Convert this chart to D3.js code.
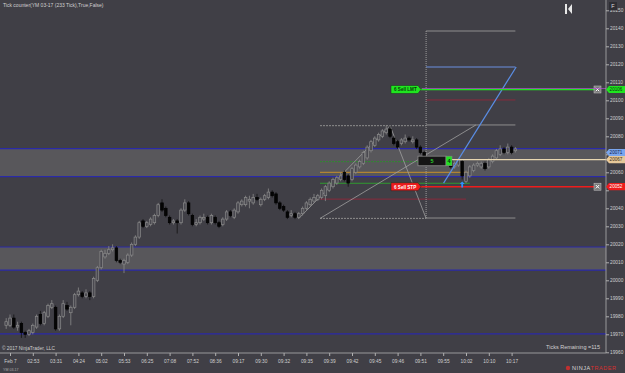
<!DOCTYPE html>
<html>
<head>
<meta charset="utf-8">
<script src="https://cdn.jsdelivr.net/npm/d3@7"></script>
<style>
  body { margin: 0; background: #403f46; overflow: hidden; }
  text { font-family: "Liberation Sans", Arial, sans-serif; }
</style>
</head>
<body>
<svg id="chart" width="625" height="373"></svg>
<script>
// 233 tick bars, YM 03-17
const opens = [19975,19975,19979,19974,19976,19971,19970,19971,19974,19981,19976,19980,19985,19985,19973,19980,19986,19982,19985,19992,
  19993,19991,19993,19991,20000,20007,20013,20015,20017,20018,20011,20009,20010,20014,20020,20024,20033,20030,20031,20032,
  20036,20043,20040,20035,20032,20033,20032,20039,20043,20036,20031,20032,20034,20035,20032,20035,20032,20031,20034,20038,
  20035,20038,20042,20042,20044,20043,20046,20042,20045,20046,20049,20048,20043,20041,20038,20036,20037,20035,20037,20040,
  20042,20044,20045,20046,20047,20050,20052,20054,20056,20060,20058,20056,20060,20063,20065,20068,20072,20075,20078,20080,
  20082,20084,20079,20077,20076,20077,20079,20077,20078,20074,20071,20068,20067,20066,20067,20066,20065,20067,20063,20064,
  20066,20055,20058,20061,20064,20063,20065,20063,20066,20068,20070,20073,20071,20074,20072];
const highs = [19979,19981,19981,19977,19977,19972,19973,19976,19981,19983,19983,19987,19989,19986,19981,19989,19988,19986,19993,19996,
  19994,19995,19994,20002,20008,20017,20017,20019,20020,20019,20012,20012,20015,20021,20025,20033,20034,20033,20035,20037,
  20043,20045,20041,20036,20034,20034,20040,20045,20044,20037,20034,20036,20037,20036,20037,20036,20033,20035,20039,20039,
  20040,20044,20045,20047,20047,20048,20048,20046,20048,20051,20050,20049,20044,20042,20039,20039,20038,20038,20041,20044,
  20046,20048,20048,20051,20053,20055,20057,20058,20060,20061,20059,20063,20065,20067,20072,20075,20078,20080,20082,20084,
  20086,20086,20080,20078,20079,20081,20080,20080,20079,20075,20072,20069,20068,20068,20068,20068,20068,20068,20066,20068,
  20067,20061,20064,20065,20066,20066,20066,20068,20070,20073,20075,20074,20076,20075,20074];
const lows = [19973,19974,19973,19972,19968,19968,19969,19970,19973,19975,19975,19979,19984,19972,19972,19979,19983,19975,19984,19991,
  19990,19990,19989,19990,19999,20006,20012,20014,20016,20010,20009,20004,20009,20013,20019,20023,20029,20029,20030,20031,
  20035,20038,20035,20031,20031,20026,20031,20038,20036,20030,20030,20031,20033,20031,20031,20031,20029,20030,20033,20035,
  20034,20037,20041,20041,20040,20042,20044,20041,20044,20045,20046,20042,20039,20038,20034,20035,20034,20034,20036,20039,
  20041,20043,20044,20045,20044,20049,20051,20053,20055,20055,20052,20055,20059,20062,20064,20067,20071,20074,20077,20079,
  20081,20079,20075,20073,20075,20076,20077,20076,20073,20070,20067,20066,20065,20065,20065,20065,20064,20062,20062,20063,
  20056,20054,20057,20060,20063,20062,20061,20062,20065,20067,20069,20070,20070,20070,20071];
const closes = [19977,19979,19974,19975,19971,19970,19972,19975,19980,19976,19982,19986,19987,19973,19980,19987,19984,19985,19992,19994,
  19991,19993,19991,20001,20007,20016,20015,20017,20018,20011,20010,20011,20014,20020,20024,20032,20030,20032,20034,20036,
  20042,20039,20036,20032,20033,20032,20039,20043,20037,20031,20032,20035,20035,20032,20036,20032,20030,20034,20038,20036,
  20039,20043,20044,20046,20045,20046,20045,20045,20047,20049,20047,20043,20040,20039,20035,20037,20035,20037,20040,20043,
  20045,20046,20047,20050,20052,20054,20056,20057,20058,20056,20054,20062,20064,20066,20071,20074,20077,20079,20081,20083,
  20084,20080,20076,20074,20078,20079,20078,20078,20074,20071,20068,20067,20066,20067,20066,20067,20066,20063,20065,20067,
  20058,20060,20063,20064,20065,20065,20062,20067,20069,20072,20073,20071,20074,20071,20073];

const priceTicks = [19960,19970,19980,19990,20000,20010,20020,20030,20040,20050,20060,20070,20080,20090,20100,20110,20120,20130,20140,20150];
const hiddenTickLabels = [20050, 20070]; // covered by the price markers
const timeLabels = ["Feb 7","02:53","03:31","04:24","05:02","05:53","06:25","07:08","07:52","08:36","09:17","09:30",
  "09:32","09:35","09:39","09:42","09:45","09:46","09:51","09:55","10:02","10:10","10:17"];
const timeBars = [1,7,13,19,25,31,37,43,49,55,61,67,73,79,85,91,97,103,109,115,121,127,133];

// zones (price from / to) and single lines
const zones = [[20057.6, 20073.2], [20005.7, 20018.5]];
const singleLines = [19970.2];

// fib retracement (swing 20034.4 -> 20085.9)
const retLevels = [20085.9, 20065.9, 20060.0, 20053.9, 20045.1, 20034.4];
const retEnds   = [110.5, 110.5, 122, 122, 121, 110.5];
// fib extension levels
const extLevels = [20138.5, 20118.5, 20100.2, 20086.3, 20034.6];
// trend lines [bar1, price1, bar2, price2]
const grayLines = [[77, 20034.4, 101, 20085.9], [101, 20085.9, 110.5, 20034.4], [82.6, 20034.4, 123.6, 20086.3]];
const blueLines = [[115.1, 20054, 134.2, 20118.5]];

// orders
const orders = [{name: "6  Sell LMT", price: 20106, color: "#1fe51f", text: "#0b3a0b"},
                {name: "6  Sell STP", price: 20052, color: "#ee1c1c", text: "#ffffff"}];
const markers = [{price: 20071, color: "#7aa6ee", text: "#10204a"},
                 {price: 20067, color: "#e6c89a", text: "#3a2a10"}];
const lastPriceLine = 20067;
const tickBox = {qty: "5", pos: "4", price: 20066.3};
const buyArrowBar = 120;

const W = 625, H = 373, axisX = 606, bottomY = 353;
const svg = d3.select("#chart");

const x = d3.scaleLinear().domain([0, closes.length - 1]).range([6.2, 515.4]);
const y = d3.scaleLinear().domain([19960, 20140]).range([352.3, 28.3]);

svg.append("rect").attr("width", W).attr("height", H).attr("fill", "#403f46");

// zones
zones.forEach(z => {
  svg.append("rect").attr("x", 0).attr("width", axisX)
    .attr("y", y(z[1])).attr("height", y(z[0]) - y(z[1]))
    .attr("fill", "#58575b");
  z.forEach(p => svg.append("line").attr("x1", 0).attr("x2", axisX)
    .attr("y1", y(p)).attr("y2", y(p)).attr("stroke", "#2a2aa8").attr("stroke-width", 1.2));
});
singleLines.forEach(p => svg.append("line").attr("x1", 0).attr("x2", axisX)
  .attr("y1", y(p)).attr("y2", y(p)).attr("stroke", "#2a2aa8").attr("stroke-width", 1.2));

// title
svg.append("text").attr("x", 3).attr("y", 7).attr("font-size", 5).attr("fill", "#d0d0d0")
  .text("Tick counter(YM 03-17 (233 Tick),True,False)");

// fib retracement
const retColors = ["#8e8e8e", "#2e8a2e", "#c8902a", "#2f9a2f", "#8a2a3c", "#8e8e8e"];
const retDash = ["2,1", "2,1", null, null, null, "2,1"];
retLevels.forEach((p, i) => {
  svg.append("line").attr("x1", 320).attr("x2", x(retEnds[i]))
    .attr("y1", y(p)).attr("y2", y(p)).attr("stroke", retColors[i])
    .attr("stroke-width", 1).attr("stroke-dasharray", retDash[i]);
});

// fib extension
const extColors = ["#8e8e8e", "#6a90e0", "#8a2a3c", "#8e8e8e", "#8e8e8e"];
extLevels.forEach((p, i) => {
  svg.append("line").attr("x1", x(110.5)).attr("x2", x(134))
    .attr("y1", y(p)).attr("y2", y(p)).attr("stroke", extColors[i]).attr("stroke-width", 1);
});
svg.append("line").attr("x1", x(110.5)).attr("x2", x(110.5))
  .attr("y1", y(extLevels[0])).attr("y2", y(extLevels[4]))
  .attr("stroke", "#9a9a9a").attr("stroke-dasharray", "1,1");

grayLines.forEach(l => svg.append("line")
  .attr("x1", x(l[0])).attr("y1", y(l[1])).attr("x2", x(l[2])).attr("y2", y(l[3]))
  .attr("stroke", "#a0a0a0").attr("stroke-width", 0.8));

// candles
const bw = 2.6;
const bars = svg.append("g");
closes.forEach((c, i) => {
  const o = opens[i], up = c >= o;
  bars.append("line").attr("x1", x(i)).attr("x2", x(i))
    .attr("y1", y(highs[i])).attr("y2", y(lows[i]))
    .attr("stroke", up ? "#8a8a8a" : "#111").attr("stroke-width", 0.8);
  bars.append("rect").attr("x", x(i) - bw / 2).attr("width", bw)
    .attr("y", y(Math.max(o, c))).attr("height", Math.max(0.8, Math.abs(y(o) - y(c))))
    .attr("fill", up ? "#4a4950" : "#050505")
    .attr("stroke", up ? "#8a8a8a" : "#000").attr("stroke-width", 0.7);
});

blueLines.forEach(l => svg.append("line")
  .attr("x1", x(l[0])).attr("y1", y(l[1])).attr("x2", x(l[2])).attr("y2", y(l[3]))
  .attr("stroke", "#5a8ee6").attr("stroke-width", 1.2));

// last price line
svg.append("line").attr("x1", 452).attr("x2", axisX)
  .attr("y1", y(lastPriceLine)).attr("y2", y(lastPriceLine))
  .attr("stroke", "#e8d6b0").attr("stroke-width", 1.2);

// order lines
orders.forEach(od => {
  const yy = y(od.price);
  svg.append("line").attr("x1", 420).attr("x2", 597).attr("y1", yy).attr("y2", yy)
    .attr("stroke", od.color).attr("stroke-width", 1.5);
  svg.append("path")
    .attr("d", `M391,${yy - 4}H418L421,${yy}L418,${yy + 4}H391Z`)
    .attr("fill", od.color).attr("stroke", "#222").attr("stroke-width", 0.5);
  svg.append("text").attr("x", 394).attr("y", yy + 1.8).attr("font-size", 4.6)
    .attr("font-weight", "bold").attr("fill", od.text).text(od.name);
  const g = svg.append("g").attr("transform", `translate(594,${yy - 3.5})`);
  g.append("rect").attr("width", 7).attr("height", 7).attr("fill", "#7a7a7a").attr("stroke", "#ccc").attr("stroke-width", 0.5);
  g.append("path").attr("d", "M1.8,1.8L5.2,5.2M5.2,1.8L1.8,5.2").attr("stroke", "#fff").attr("stroke-width", 1);
});
svg.append("path").attr("d", `M422,${y(20106) - 1}H${axisX}`).attr("stroke", "#b050d0").attr("stroke-width", 0.7);

// tick counter box
{
  const yy = y(tickBox.price);
  svg.append("rect").attr("x", 418).attr("y", yy - 4.8).attr("width", 28).attr("height", 9.6)
    .attr("fill", "#151515").attr("stroke", "#8a8a8a").attr("stroke-width", 0.8);
  svg.append("text").attr("x", 432).attr("y", yy + 2).attr("text-anchor", "middle")
    .attr("font-size", 5.5).attr("font-weight", "bold").attr("fill", "#2ad42a").text(tickBox.qty);
  svg.append("rect").attr("x", 446).attr("y", yy - 4.8).attr("width", 6).attr("height", 9.6)
    .attr("fill", "#22e022").attr("stroke", "#8a8a8a").attr("stroke-width", 0.5);
  svg.append("text").attr("x", 449).attr("y", yy + 2).attr("text-anchor", "middle")
    .attr("font-size", 5.5).attr("font-weight", "bold").attr("fill", "#103010").text(tickBox.pos);
}

// buy arrow
{
  const ax = x(buyArrowBar), ay = y(lows[buyArrowBar]) + 2;
  svg.append("path").attr("d", `M${ax},${ay}l-2.5,2.5h1.6v3.5h1.8v-3.5h1.6Z`).attr("fill", "#2f8fff");
}

// right axis
svg.append("line").attr("x1", axisX).attr("x2", axisX).attr("y1", 0).attr("y2", bottomY)
  .attr("stroke", "#b0b0b0").attr("stroke-width", 0.8);
const yAxis = svg.append("g").attr("transform", `translate(${axisX},0)`)
  .call(d3.axisRight(y).tickValues(priceTicks).tickSize(3)
    .tickFormat(d => hiddenTickLabels.includes(d) ? "" : d3.format("d")(d)));
yAxis.select(".domain").remove();
yAxis.selectAll("line").attr("stroke", "#b0b0b0");
yAxis.selectAll("text").attr("font-size", 4.8).attr("fill", "#cfcfcf").attr("x", 4);

// price markers on axis
const axisMarks = [{price: 20106, color: "#1fe51f", text: "#0b300b"},
                   {price: 20052, color: "#ee1c1c", text: "#ffffff"}].concat(markers);
axisMarks.forEach(m => {
  const yy = y(m.price);
  svg.append("path").attr("d", `M${axisX},${yy}L${axisX + 3},${yy - 3.6}H625V${yy + 3.6}H${axisX + 3}Z`)
    .attr("fill", m.color);
  svg.append("text").attr("x", 616).attr("y", yy + 1.6).attr("text-anchor", "middle")
    .attr("font-size", 4.6).attr("fill", m.text).text(m.price);
});

// bottom axis
svg.append("line").attr("x1", 0).attr("x2", axisX).attr("y1", bottomY).attr("y2", bottomY)
  .attr("stroke", "#b0b0b0").attr("stroke-width", 0.8);
const xAxis = svg.append("g").attr("transform", `translate(0,${bottomY})`)
  .call(d3.axisBottom(x).tickValues(timeBars).tickSize(3).tickFormat((d, i) => timeLabels[i]));
xAxis.select(".domain").remove();
xAxis.selectAll("line").attr("stroke", "#b0b0b0");
xAxis.selectAll("text").attr("font-size", 4.8).attr("fill", "#cfcfcf").attr("y", 7);

// texts
svg.append("text").attr("x", 2).attr("y", 350).attr("font-size", 4.8).attr("fill", "#cfcfcf")
  .text("\u00a9 2017 NinjaTrader, LLC");
svg.append("text").attr("x", 600).attr("y", 349).attr("text-anchor", "end").attr("font-size", 5.5)
  .attr("fill", "#d0d0d0").text("Ticks Remaining =115");
svg.append("text").attr("x", 3).attr("y", 371).attr("font-size", 3.6).attr("fill", "#aaa").text("YM 03-17");
svg.append("text").attr("x", 572).attr("y", 370).attr("font-size", 5.5).attr("letter-spacing", 0.6)
  .attr("fill", "#d8d8d8").text("NINJA").append("tspan").attr("fill", "#d83030").text("TRADER");
svg.append("circle").attr("cx", 568).attr("cy", 368).attr("r", 2.2).attr("fill", "#c03030");

// top-right controls
svg.append("path").attr("d", "M565,4h2v10h-2zM568,9l4,-5v10z").attr("fill", "#e8e8e8");
svg.append("rect").attr("x", 609).attr("y", 2).attr("width", 8).attr("height", 8).attr("fill", "#2e2e34");
svg.append("text").attr("x", 613).attr("y", 8).attr("text-anchor", "middle").attr("font-size", 5.5)
  .attr("fill", "#ddd").text("F");
</script>
</body>
</html>
